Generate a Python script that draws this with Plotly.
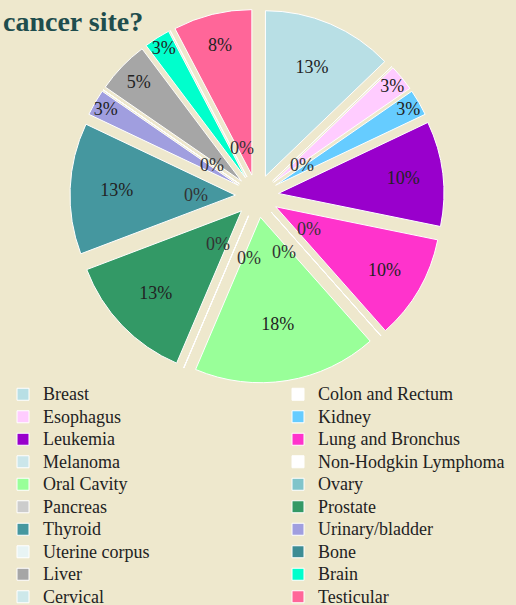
import math
import plotly.graph_objects as go

categories = ["Breast", "Colon and Rectum", "Esophagus", "Kidney", "Leukemia",
              "Lung and Bronchus", "Melanoma", "Non-Hodgkin Lymphoma", "Oral Cavity",
              "Ovary", "Pancreas", "Prostate", "Thyroid", "Urinary/bladder",
              "Uterine corpus", "Bone", "Liver", "Brain", "Cervical", "Testicular"]
counts = [5, 0, 1, 1, 4, 4, 0, 0, 7, 0, 0, 5, 5, 1, 0, 0, 2, 1, 0, 3]
colors = ["#B8DFE5", "#FFFFFF", "#FFCCFF", "#66CCFF", "#9900CC",
          "#FF33CC", "#CBE6EA", "#FFFFFF", "#99FF99", "#80C4CA",
          "#CCCCCC", "#339966", "#45979F", "#A09EDF", "#E8F4F4",
          "#3C8C94", "#A6A6A6", "#00FFCC", "#CDE8EA", "#FF6699"]
title_text = "cancer site?"

W, H = 560, 605          # figure wider than the 516px window; overflow is clipped
BG = "#EEE8CD"
SERIF = "Liberation Serif"
PULL = 0.13

# pie domain (paper fractions, margins are zero)
dom_x = [70 / W, 444 / W]
dom_y = [1 - 386 / H, 1 - 6 / H]

total = sum(counts)
legend_labels = ['<span style="font-size:18px">%s</span>' % c for c in categories]
texts = ["" if v == 0 else "%.0f%%" % (100.0 * v / total) for v in counts]

fig = go.Figure(go.Pie(
    labels=legend_labels,
    values=counts,
    text=texts,
    textinfo="text",
    sort=False,
    direction="clockwise",
    rotation=0,
    pull=[PULL] * len(categories),
    marker=dict(colors=colors, line=dict(color="white", width=1)),
    textposition="inside",
    insidetextorientation="horizontal",
    textfont=dict(family=SERIF, size=18, color="#222222"),
    domain=dict(x=dom_x, y=dom_y),
    hoverinfo="label+percent",
))

# "0%" labels of the empty slices: placed near the pie centre along each
# empty slice's angle, spreading labels that share the same angle.
cx_px = (dom_x[0] + dom_x[1]) / 2 * W
cy_px = (1 - (dom_y[0] + dom_y[1]) / 2) * H
angles, cum = [], 0
for v in counts:
    if v == 0:
        angles.append(cum / total * 360.0)
    cum += v
SEP = 32.0
clusters = [[a] for a in angles]
changed = True
while changed:
    changed = False
    for i in range(len(clusters) - 1):
        a, b = clusters[i], clusters[i + 1]
        ma, mb = sum(a) / len(a), sum(b) / len(b)
        if (mb - (len(b) - 1) * SEP / 2) - (ma + (len(a) - 1) * SEP / 2) < SEP:
            clusters[i:i + 2] = [a + b]
            changed = True
            break
spread = []
for c in clusters:
    m = sum(c) / len(c)
    for k in range(len(c)):
        spread.append(m + (k - (len(c) - 1) / 2) * SEP)
R0 = 62
for ang in spread:
    t = math.radians(ang)
    px = cx_px + R0 * math.sin(t)
    py = cy_px - R0 * math.cos(t)
    fig.add_annotation(x=px / W, y=1 - py / H, xref="paper", yref="paper",
                       text="0%", showarrow=False,
                       font=dict(family=SERIF, size=18, color="#333333"))

fig.update_layout(
    width=W, height=H,
    paper_bgcolor=BG, plot_bgcolor=BG,
    margin=dict(l=0, r=0, t=0, b=0, autoexpand=False),
    uniformtext=dict(minsize=18, mode="show"),
    title=dict(text="<b>%s</b>" % title_text, x=3 / W, xanchor="left", xref="container",
               y=1 - 11 / H, yanchor="top", yref="container",
               font=dict(family=SERIF, size=28, color="#1E4D4D")),
    legend=dict(orientation="h", x=3 / W, xanchor="left", y=1 - 378 / H, yanchor="top",
                entrywidth=230, entrywidthmode="pixels",
                font=dict(family=SERIF, size=15, color="#222222"),
                bgcolor="rgba(0,0,0,0)"),
    showlegend=True,
)

fig.write_html("out.html", config={"displayModeBar": False}, post_script=(
    "document.body.style.margin='0';"
    "document.documentElement.style.overflow='hidden';"
    "document.body.style.overflow='hidden';"))
